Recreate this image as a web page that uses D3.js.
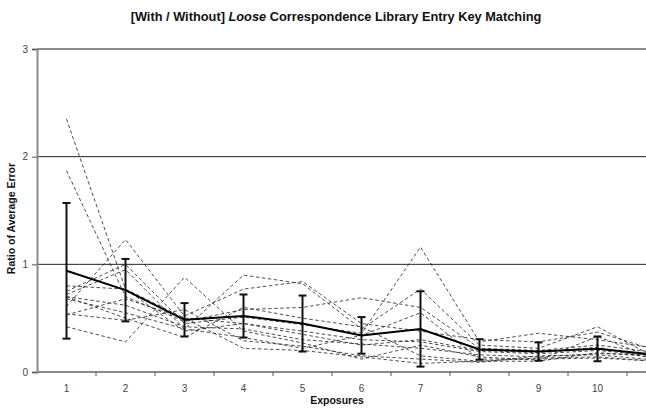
<!DOCTYPE html>
<html>
<head>
<meta charset="utf-8">
<script src="https://cdn.jsdelivr.net/npm/d3@7"></script>
<style>
  html, body { margin: 0; padding: 0; background: #fff; }
  svg { display: block; font-family: "Liberation Sans", Arial, sans-serif; }
</style>
</head>
<body>
<svg id="chart" width="646" height="411"></svg>
<script>
// Exposure categories (the 11th runs past the right edge of the frame)
const exposures = [1, 2, 3, 4, 5, 6, 7, 8, 9, 10, 11];
const xTickLabels = ["1", "2", "3", "4", "5", "6", "7", "8", "9", "10", ""];
const yTicks = [0, 1, 2, 3];

// Individual runs (dashed)
const run01 = [2.35, 0.77, 0.50, 0.45, 0.38, 0.30, 0.28, 0.19, 0.17, 0.20, 0.15];
const run02 = [1.87, 0.70, 0.47, 0.58, 0.60, 0.69, 0.60, 0.22, 0.20, 0.25, 0.18];
const run03 = [0.61, 1.23, 0.52, 0.77, 0.84, 0.45, 0.38, 0.30, 0.28, 0.37, 0.20];
const run04 = [0.75, 1.00, 0.45, 0.51, 0.44, 0.36, 1.16, 0.28, 0.36, 0.30, 0.22];
const run05 = [0.72, 0.95, 0.40, 0.90, 0.82, 0.40, 0.77, 0.25, 0.22, 0.42, 0.13];
const run06 = [0.70, 0.62, 0.42, 0.40, 0.30, 0.26, 0.22, 0.16, 0.14, 0.17, 0.16];
const run07 = [0.80, 0.77, 0.38, 0.45, 0.35, 0.25, 0.30, 0.20, 0.18, 0.23, 0.12];
const run08 = [0.68, 0.55, 0.40, 0.32, 0.22, 0.34, 0.55, 0.12, 0.12, 0.13, 0.10];
const run09 = [0.70, 0.50, 0.32, 0.60, 0.50, 0.42, 0.15, 0.10, 0.10, 0.18, 0.14];
const run10 = [0.54, 0.48, 0.58, 0.29, 0.24, 0.15, 0.12, 0.09, 0.15, 0.16, 0.11];
const run11 = [0.53, 0.68, 0.50, 0.22, 0.20, 0.14, 0.08, 0.10, 0.13, 0.14, 0.10];
const run12 = [0.42, 0.28, 0.88, 0.38, 0.27, 0.12, 0.25, 0.14, 0.11, 0.33, 0.12];
const runs = [run01, run02, run03, run04, run05, run06, run07, run08, run09, run10, run11, run12];

// Average ratio with its spread (error bar half-length)
const meanRatio = [0.94, 0.76, 0.485, 0.52, 0.45, 0.34, 0.40, 0.21, 0.19, 0.215, 0.16];
const spread    = [0.63, 0.29, 0.155, 0.20, 0.26, 0.17, 0.35, 0.095, 0.085, 0.115, 0.08];

const svg = d3.select("#chart");
const plotLeft = 37, plotTop = 49, plotBottom = 372, band = 59;

const x = d3.scaleBand()
  .domain(exposures)
  .range([plotLeft, plotLeft + band * exposures.length])
  .padding(0);
const y = d3.scaleLinear().domain([0, 3]).range([plotBottom, plotTop]);
const cx = d => x(d) + x.bandwidth() / 2;

// Horizontal gridlines at 1 and 2
svg.append("g")
  .selectAll("line")
  .data([1, 2])
  .join("line")
  .attr("x1", plotLeft).attr("x2", 646)
  .attr("y1", d => y(d)).attr("y2", d => y(d))
  .attr("stroke", "#222").attr("stroke-width", 1);

// Top border of the plot area at 3
svg.append("line")
  .attr("x1", plotLeft).attr("x2", 646)
  .attr("y1", y(3)).attr("y2", y(3))
  .attr("stroke", "#8a8a8a").attr("stroke-width", 2);

// Y axis
const yAxis = svg.append("g")
  .attr("transform", `translate(${plotLeft},0)`)
  .call(d3.axisLeft(y).tickValues(yTicks).tickFormat(d3.format("d")).tickSize(5).tickPadding(4));
yAxis.select(".domain").attr("stroke", "#8a8a8a").attr("stroke-width", 2);
yAxis.selectAll(".tick line").attr("stroke", "#555");
yAxis.selectAll("text").attr("font-size", 10).attr("fill", "#444");

// X axis with ticks on the category boundaries
const xAxisG = svg.append("g").attr("transform", `translate(0,${plotBottom})`);
xAxisG.append("line")
  .attr("x1", plotLeft).attr("x2", 646)
  .attr("y1", 0).attr("y2", 0)
  .attr("stroke", "#8a8a8a").attr("stroke-width", 2);
xAxisG.selectAll("line.tick")
  .data(exposures)
  .join("line")
  .attr("class", "tick")
  .attr("x1", d => x(d) + x.bandwidth()).attr("x2", d => x(d) + x.bandwidth())
  .attr("y1", 0).attr("y2", 4)
  .attr("stroke", "#555");
xAxisG.selectAll("text")
  .data(exposures)
  .join("text")
  .attr("x", d => cx(d))
  .attr("y", 20)
  .attr("text-anchor", "middle")
  .attr("font-size", 10)
  .attr("fill", "#444")
  .text((d, i) => xTickLabels[i]);

// Dashed individual runs
const line = d3.line().x((d, i) => cx(exposures[i])).y(d => y(d));
svg.append("g")
  .selectAll("path")
  .data(runs)
  .join("path")
  .attr("d", line)
  .attr("fill", "none")
  .attr("stroke", "#222")
  .attr("stroke-width", 0.8)
  .attr("stroke-dasharray", "3.5,2.5");

// Error bars
const eb = svg.append("g").attr("stroke", "#111").attr("stroke-width", 2);
eb.selectAll("line.v")
  .data(meanRatio)
  .join("line")
  .attr("class", "v")
  .attr("x1", (d, i) => cx(exposures[i])).attr("x2", (d, i) => cx(exposures[i]))
  .attr("y1", (d, i) => y(d + spread[i])).attr("y2", (d, i) => y(d - spread[i]));
eb.selectAll("line.top")
  .data(meanRatio)
  .join("line")
  .attr("class", "top")
  .attr("x1", (d, i) => cx(exposures[i]) - 4).attr("x2", (d, i) => cx(exposures[i]) + 4)
  .attr("y1", (d, i) => y(d + spread[i])).attr("y2", (d, i) => y(d + spread[i]));
eb.selectAll("line.bot")
  .data(meanRatio)
  .join("line")
  .attr("class", "bot")
  .attr("x1", (d, i) => cx(exposures[i]) - 4).attr("x2", (d, i) => cx(exposures[i]) + 4)
  .attr("y1", (d, i) => y(d - spread[i])).attr("y2", (d, i) => y(d - spread[i]));

// Mean line
svg.append("path")
  .datum(meanRatio)
  .attr("d", line)
  .attr("fill", "none")
  .attr("stroke", "#000")
  .attr("stroke-width", 2);

// Title
const title = svg.append("text")
  .attr("x", 336).attr("y", 21)
  .attr("text-anchor", "middle")
  .attr("font-size", 12.8)
  .attr("font-weight", "bold")
  .attr("fill", "#111");
title.append("tspan").text("[With / Without] ");
title.append("tspan").attr("font-style", "italic").text("Loose");
title.append("tspan").text(" Correspondence Library Entry Key Matching");

// Axis titles
svg.append("text")
  .attr("x", 337).attr("y", 404)
  .attr("text-anchor", "middle")
  .attr("font-size", 10.5)
  .attr("font-weight", "bold")
  .attr("fill", "#111")
  .text("Exposures");
svg.append("text")
  .attr("transform", `translate(15,${(plotTop + plotBottom) / 2 + 8}) rotate(-90)`)
  .attr("text-anchor", "middle")
  .attr("font-size", 10.5)
  .attr("font-weight", "bold")
  .attr("fill", "#111")
  .text("Ratio of Average Error");
</script>
</body>
</html>
